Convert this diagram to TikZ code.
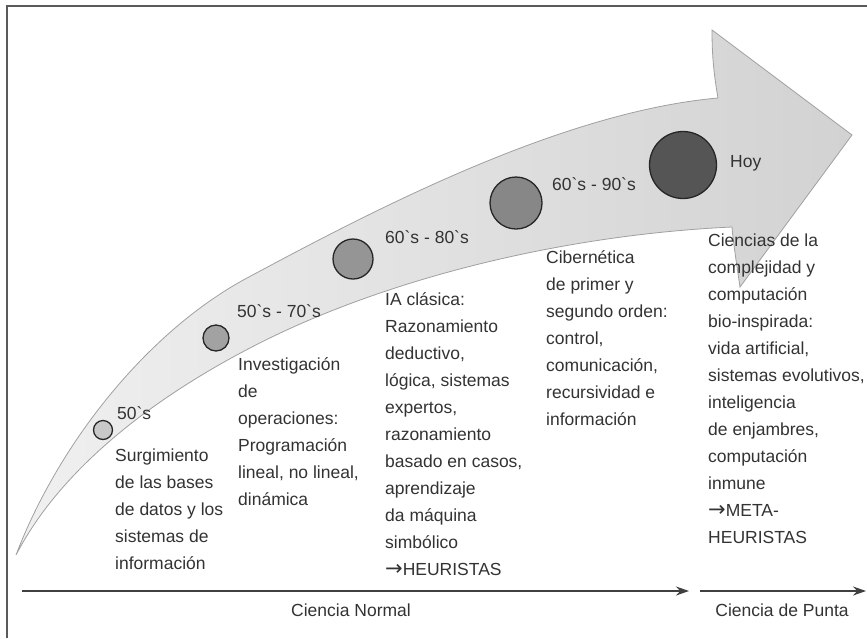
\documentclass[tikz,border=0pt]{standalone}
\usepackage{fontspec}
\setmainfont{Liberation Sans}[Ligatures=TeXOff]
\newfontfamily\arrowfont{DejaVu Sans}
\newcommand{\rarr}{{\arrowfont\fontsize{21}{27}\selectfont →}}
\usetikzlibrary{arrows.meta}
\definecolor{txt}{HTML}{333333}
\definecolor{edgecol}{HTML}{A0A0A0}
\definecolor{framecol}{HTML}{5A5A5A}
\definecolor{cA}{HTML}{C8C8C8}
\definecolor{cB}{HTML}{A2A2A2}
\definecolor{cC}{HTML}{959595}
\definecolor{cD}{HTML}{878787}
\definecolor{cE}{HTML}{555555}
\definecolor{shadeL}{HTML}{F0F0F0}
\definecolor{shadeR}{HTML}{D2D2D2}
\begin{document}
\begin{tikzpicture}[x=1pt,y=-1pt,
  lbl/.style={anchor=base west, inner sep=0pt, text=txt, font=\fontsize{17.5}{27}\selectfont, align=left},
  era/.style={circle, inner sep=0pt, draw=black!85, line width=1.3pt},
  axisline/.style={draw=black!75, line width=1.2pt, -{Stealth[length=13pt,width=9pt]}},
  bigarrow/.style={draw=edgecol, line width=0.8pt, left color=shadeL, right color=shadeR}]
\fill[white] (0,0) rectangle (867,638);
\useasboundingbox (0,0) rectangle (867,638);
% frame
\draw[framecol, line width=1.6pt] (7,638) -- (7,6) -- (867,6);
% big curved arrow
\path[bigarrow]
 (16,555) .. controls (60,440) and (150,330) .. (247,278)
 .. controls (370,212) and (560,112) .. (718,98)
 .. controls (713,70) and (712,50) .. (712,30)
 -- (852,135) -- (740,287)
 .. controls (736,260) and (733,240) .. (732,227)
 .. controls (560,235) and (380,280) .. (250,348)
 .. controls (150,400) and (60,470) .. (16,555) -- cycle;
% circles
\node[era, fill=cA, minimum size=19pt] (e1) at (103,430) {};
\node[era, fill=cB, minimum size=26pt] (e2) at (216,338) {};
\node[era, fill=cC, minimum size=40pt] (e3) at (353,259) {};
\node[era, fill=cD, minimum size=52pt] (e4) at (516,203) {};
\node[era, fill=cE, minimum size=67pt] (e5) at (683,165) {};
% period labels
\node[lbl] (t1) at (117,419) {50`s};
\node[lbl] (t2) at (237,317) {50`s - 70`s};
\node[lbl] (t3) at (385,243) {60`s - 80`s};
\node[lbl] (t4) at (552,190) {60`s - 90`s};
\node[lbl] (t5) at (730,167) {Hoy};
% descriptions (base anchor = last line)
\node[lbl] (d1) at (115,569) {Surgimiento\\de las bases\\de datos y los\\sistemas de\\información};
\node[lbl] (d2) at (238,505) {Investigación\\de\\operaciones:\\Programación\\lineal, no lineal,\\dinámica};
\node[lbl] (d3) at (385,575) {IA clásica:\\Razonamiento\\deductivo,\\lógica, sistemas\\expertos,\\razonamiento\\basado en casos,\\aprendizaje\\da máquina\\simbólico\\\rarr HEURISTAS};
\node[lbl] (d4) at (546,425) {Cibernética\\de primer y\\segundo orden:\\control,\\comunicación,\\recursividad e\\información};
\node[lbl] (d5) at (708,543) {Ciencias de la\\complejidad y\\computación\\bio-inspirada:\\vida artificial,\\sistemas evolutivos,\\inteligencia\\de enjambres,\\computación\\inmune\\\rarr META-\\HEURISTAS};
% bottom axes
\coordinate (n1) at (22,591);
\coordinate (n2) at (689,591);
\coordinate (p1) at (700,591);
\coordinate (p2) at (866,591);
\draw[axisline] (n1) -- (n2);
\draw[axisline] (p1) -- (p2);
\node[lbl, anchor=base] (cn) at (351,616) {Ciencia Normal};
\node[lbl, anchor=base] (cp) at (782,616) {Ciencia de Punta};
\end{tikzpicture}
\end{document}
